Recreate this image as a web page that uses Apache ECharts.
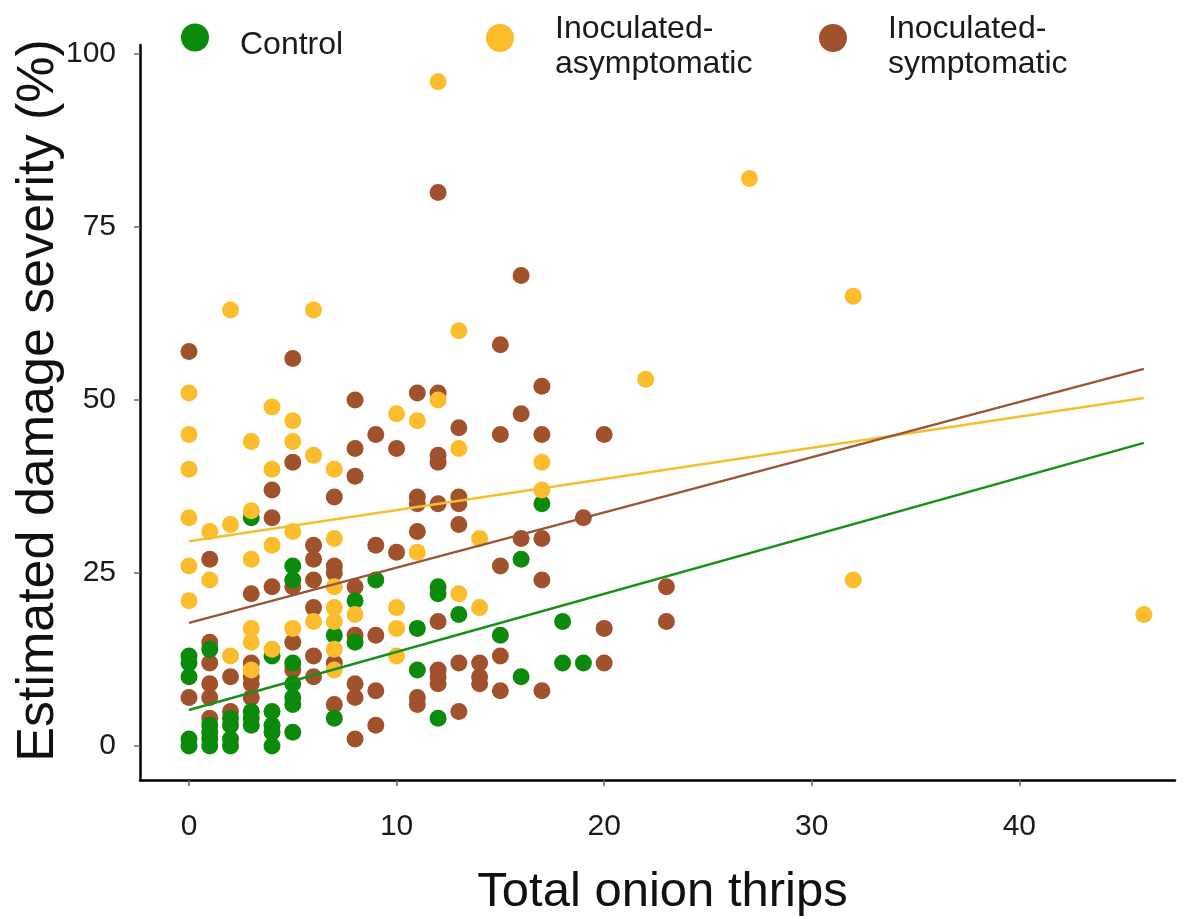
<!DOCTYPE html>
<html>
<head>
<meta charset="utf-8">
<script src="https://cdn.jsdelivr.net/npm/echarts@6/dist/echarts.min.js"></script>
<style>
  html, body { margin: 0; padding: 0; background: #ffffff; }
  #chart { width: 1185px; height: 919px; }
</style>
</head>
<body>
<div id="chart"></div>
<script>
// Axis tick positions
const xTicks = [0, 10, 20, 30, 40];
const yTicks = [0, 25, 50, 75, 100];

// Group names as shown in the legend
const groupNames = ['Control', 'Inoculated-asymptomatic', 'Inoculated-symptomatic'];

// Control plants: [total onion thrips, estimated damage severity %]
const controlPoints = [
  [0, 0], [0, 1], [0, 10], [0, 12], [0, 13],
  [1, 0], [1, 1], [1, 2], [1, 3], [1, 14],
  [2, 0], [2, 1], [2, 3], [2, 4],
  [3, 3], [3, 4], [3, 5], [3, 33],
  [4, 0], [4, 2], [4, 3], [4, 5], [4, 13],
  [5, 2], [5, 6], [5, 7], [5, 9], [5, 12], [5, 24], [5, 26],
  [7, 4], [7, 16],
  [8, 15], [8, 21],
  [9, 24],
  [11, 11], [11, 17],
  [12, 4], [12, 22], [12, 23],
  [13, 19],
  [15, 16],
  [16, 10], [16, 27],
  [17, 35],
  [18, 12], [18, 18],
  [19, 12]
];

// Inoculated plants without symptoms
const asymptomaticPoints = [
  [0, 21], [0, 26], [0, 33], [0, 40], [0, 45], [0, 51],
  [1, 24], [1, 31],
  [2, 13], [2, 32], [2, 63],
  [3, 11], [3, 15], [3, 17], [3, 27], [3, 34], [3, 44],
  [4, 14], [4, 29], [4, 40], [4, 49],
  [5, 17], [5, 31], [5, 44], [5, 47],
  [6, 18], [6, 42], [6, 63],
  [7, 11], [7, 14], [7, 18], [7, 20], [7, 23], [7, 30], [7, 40],
  [8, 19],
  [10, 13], [10, 17], [10, 20], [10, 48],
  [11, 28], [11, 47],
  [12, 50], [12, 96],
  [13, 22], [13, 43], [13, 60],
  [14, 20], [14, 30],
  [17, 37], [17, 41],
  [22, 53],
  [27, 82],
  [32, 24], [32, 65],
  [46, 19]
];

// Inoculated plants with symptoms
const symptomaticPoints = [
  [0, 7], [0, 57],
  [1, 4], [1, 7], [1, 9], [1, 12], [1, 15], [1, 27],
  [2, 5], [2, 10],
  [3, 7], [3, 9], [3, 10], [3, 12], [3, 22],
  [4, 23], [4, 33], [4, 37],
  [5, 11], [5, 15], [5, 23], [5, 41], [5, 56],
  [6, 10], [6, 13], [6, 20], [6, 24], [6, 27], [6, 29],
  [7, 6], [7, 12], [7, 25], [7, 26], [7, 36],
  [8, 1], [8, 7], [8, 9], [8, 16], [8, 23], [8, 39], [8, 43], [8, 50],
  [9, 3], [9, 8], [9, 16], [9, 29], [9, 45],
  [10, 28], [10, 43],
  [11, 6], [11, 7], [11, 31], [11, 35], [11, 36], [11, 51],
  [12, 9], [12, 10], [12, 11], [12, 18], [12, 35], [12, 41], [12, 42], [12, 51], [12, 80],
  [13, 5], [13, 12], [13, 32], [13, 35], [13, 36], [13, 46],
  [14, 9], [14, 10], [14, 12],
  [15, 8], [15, 13], [15, 26], [15, 45], [15, 58],
  [16, 30], [16, 48], [16, 68],
  [17, 8], [17, 24], [17, 30], [17, 45], [17, 52],
  [19, 33],
  [20, 12], [20, 17], [20, 45],
  [23, 18], [23, 23]
];

// Linear trend lines for each group (start and end of the fitted line)
const controlTrend = [[0, 5.2], [46, 43.8]];
const asymptomaticTrend = [[0, 29.6], [46, 50.3]];
const symptomaticTrend = [[0, 17.8], [46, 54.5]];

const colors = {
  control: '#0b8a0b',
  asymptomatic: '#fbbd2b',
  symptomatic: '#a0522d'
};
const lineColors = {
  control: '#17901a',
  asymptomatic: '#f4bf2e',
  symptomatic: '#9a5536'
};

const fontFamily = '"Liberation Sans", Arial, sans-serif';

// Legend label styles: rows of unequal height put the text block a little
// below the marker, with the two-line labels hanging down from it
const legendRich = {
  top: { fontFamily: fontFamily, fontSize: 32, color: '#1a1a1a', lineHeight: 52 },
  bottom: { fontFamily: fontFamily, fontSize: 32, color: '#1a1a1a', lineHeight: 18 },
  spacer: { fontSize: 4, lineHeight: 16 },
  single: { fontFamily: fontFamily, fontSize: 32, color: '#1a1a1a', lineHeight: 35 }
};

function legendLabel(name) {
  const parts = name.split('-');
  if (parts.length === 2) {
    return '{top|' + parts[0] + '-}\n{bottom|' + parts[1] + '}';
  }
  return '{spacer| }\n{single|' + name + '}';
}

// One legend block per group so each can sit at its own spot in the top row
function legendFor(name, left, top, gap) {
  return {
    data: [name],
    left: left,
    top: top,
    padding: 0,
    orient: 'horizontal',
    icon: 'circle',
    itemWidth: 28,
    itemHeight: 28,
    selectedMode: false,
    formatter: legendLabel,
    textStyle: {
      fontFamily: fontFamily,
      fontSize: 32,
      color: '#1a1a1a',
      padding: [0, 0, 0, gap],
      rich: legendRich
    }
  };
}

const chart = echarts.init(document.getElementById('chart'), null, { renderer: 'canvas' });

chart.setOption({
  animation: false,
  backgroundColor: '#ffffff',
  grid: { left: 140, right: 10, top: 45, bottom: 139, containLabel: false, outerBoundsMode: 'none' },
  legend: [
    legendFor(groupNames[0], 181, 18, 26),
    legendFor(groupNames[1], 486, 13, 36),
    legendFor(groupNames[2], 819, 13, 36)
  ],
  xAxis: {
    type: 'value',
    min: -2.36,
    max: 47.5,
    splitLine: { show: false },
    axisLine: { show: true, onZero: false, lineStyle: { color: '#000', width: 2.5 } },
    axisTick: { show: true, customValues: xTicks, length: 6, lineStyle: { color: '#666', width: 1.5 } },
    axisLabel: { customValues: xTicks, fontSize: 30, color: '#1a1a1a', margin: 32, fontFamily: fontFamily },
    name: 'Total onion thrips',
    nameLocation: 'middle',
    nameGap: 88,
    nameTextStyle: { fontSize: 49, color: '#111', fontFamily: fontFamily, padding: [0, 0, 0, 10] }
  },
  yAxis: {
    type: 'value',
    min: -4.91,
    max: 101.3,
    splitLine: { show: false },
    axisLine: { show: true, onZero: false, lineStyle: { color: '#000', width: 2.5 } },
    axisTick: { show: true, customValues: yTicks, length: 6, lineStyle: { color: '#666', width: 1.5 } },
    axisLabel: { customValues: yTicks, fontSize: 30, color: '#1a1a1a', margin: 24, fontFamily: fontFamily },
    name: 'Estimated damage severity (%)',
    nameLocation: 'middle',
    nameGap: 75,
    nameMoveOverlap: false,
    nameRotate: 90,
    nameTextStyle: { fontSize: 52, color: '#111', fontFamily: fontFamily, padding: [0, 0, 0, 24] }
  },
  series: [
    {
      name: groupNames[2],
      type: 'scatter',
      data: symptomaticPoints,
      symbol: 'circle',
      symbolSize: 17,
      itemStyle: { color: colors.symptomatic, opacity: 1 },
      z: 2
    },
    {
      name: groupNames[0],
      type: 'scatter',
      data: controlPoints,
      symbol: 'circle',
      symbolSize: 17,
      itemStyle: { color: colors.control, opacity: 1 },
      z: 3
    },
    {
      name: groupNames[1],
      type: 'scatter',
      data: asymptomaticPoints,
      symbol: 'circle',
      symbolSize: 17,
      itemStyle: { color: colors.asymptomatic, opacity: 1 },
      z: 4
    },
    {
      name: 'Control fit',
      type: 'line',
      data: controlTrend,
      showSymbol: false,
      symbol: 'none',
      lineStyle: { color: lineColors.control, width: 2.5 },
      z: 5
    },
    {
      name: 'Inoculated-asymptomatic fit',
      type: 'line',
      data: asymptomaticTrend,
      showSymbol: false,
      symbol: 'none',
      lineStyle: { color: lineColors.asymptomatic, width: 2.5 },
      z: 5
    },
    {
      name: 'Inoculated-symptomatic fit',
      type: 'line',
      data: symptomaticTrend,
      showSymbol: false,
      symbol: 'none',
      lineStyle: { color: lineColors.symptomatic, width: 2.5 },
      z: 5
    }
  ]
});
</script>
</body>
</html>
